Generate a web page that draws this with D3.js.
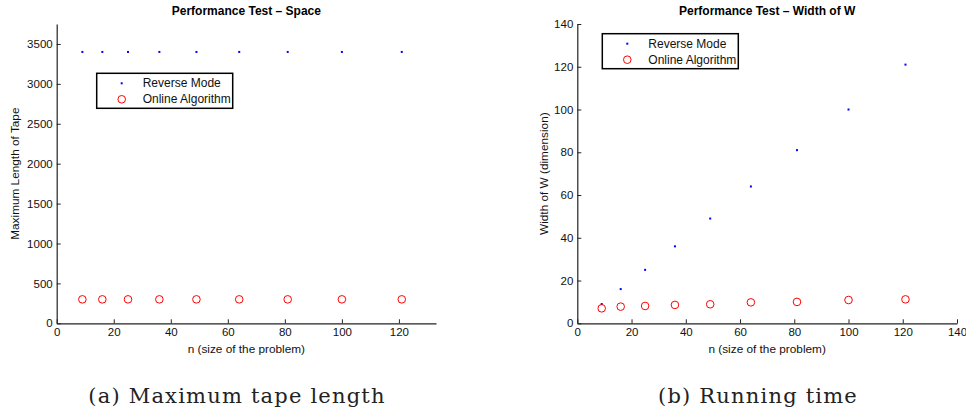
<!DOCTYPE html>
<meta charset="utf-8">
<script src="https://d3js.org/d3.v7.min.js"></script>
<style>
  body { margin: 0; background: white; }
  text { font-family: "Liberation Sans", Arial, sans-serif; }
</style>
<div id="my_div"></div>
<script>
// problem sizes (n) used in both tests
var sizes = [9, 16, 25, 36, 49, 64, 81, 100, 121];

// panel (a): maximum length of tape
var tapeReverse = [3400, 3400, 3400, 3400, 3400, 3400, 3400, 3400, 3400];
var tapeOnline  = [300, 300, 300, 300, 300, 300, 300, 300, 300];
var tapeYTicks  = [0, 500, 1000, 1500, 2000, 2500, 3000, 3500];
var tapeXTicks  = [0, 20, 40, 60, 80, 100, 120];

// panel (b): width of W
var widthReverse = [9, 16, 25, 36, 49, 64, 81, 100, 121];
var widthOnline  = [7, 7.8, 8.1, 8.6, 8.9, 9.8, 10, 10.9, 11.2];
var widthYTicks  = [0, 20, 40, 60, 80, 100, 120, 140];
var widthXTicks  = [0, 20, 40, 60, 80, 100, 120, 140];

var seriesNames = ["Reverse Mode", "Online Algorithm"];

var svg = d3.select("#my_div")
  .append("svg")
    .attr("width", 966)
    .attr("height", 410);

function drawPanel(opt) {
  var x = d3.scaleLinear().domain(opt.xDomain).range([opt.left, opt.right]);
  var y = d3.scaleLinear().domain(opt.yDomain).range([opt.bottom, opt.top]);

  // axes, ticks pointing inward like matlab
  var gx = svg.append("g")
    .attr("transform", "translate(0," + opt.bottom + ")")
    .call(d3.axisBottom(x).tickValues(opt.xTicks).tickFormat(d3.format("d"))
      .tickSize(-4).tickPadding(5).tickSizeOuter(0));
  var gy = svg.append("g")
    .attr("transform", "translate(" + opt.left + ",0)")
    .call(d3.axisLeft(y).tickValues(opt.yTicks).tickFormat(d3.format("d"))
      .tickSize(-4).tickPadding(4).tickSizeOuter(0));
  [gx, gy].forEach(function(g) {
    g.selectAll("text").style("font-size", "11.5px").attr("fill", "#111");
    g.selectAll("line").attr("stroke", "#222");
    g.select(".domain").attr("stroke", "#222").attr("stroke-width", 1.2);
  });

  // title
  svg.append("text")
    .attr("x", (opt.left + opt.right) / 2)
    .attr("y", 15)
    .attr("text-anchor", "middle")
    .style("font-size", "12px")
    .style("font-weight", "bold")
    .text(opt.title);

  // axis labels
  svg.append("text")
    .attr("x", (opt.left + opt.right) / 2)
    .attr("y", opt.bottom + 30)
    .attr("text-anchor", "middle")
    .style("font-size", "11.8px")
    .attr("fill", "#111")
    .text("n (size of the problem)");
  svg.append("text")
    .attr("transform", "translate(" + opt.yLabelX + "," + (opt.top + opt.bottom) / 2 + ") rotate(-90)")
    .attr("text-anchor", "middle")
    .style("font-size", "11.8px")
    .attr("fill", "#111")
    .text(opt.yLabel);

  // reverse mode: small blue dots
  svg.append("g").selectAll("rect")
    .data(sizes)
    .enter()
    .append("rect")
      .attr("x", function(d) { return x(d) - 1; })
      .attr("y", function(d, i) { return y(opt.reverse[i]) - 1; })
      .attr("width", 2)
      .attr("height", 2)
      .attr("fill", "#0000ff");

  // online algorithm: red open circles
  svg.append("g").selectAll("circle")
    .data(sizes)
    .enter()
    .append("circle")
      .attr("cx", function(d) { return x(d); })
      .attr("cy", function(d, i) { return y(opt.online[i]); })
      .attr("r", 3.8)
      .attr("fill", "none")
      .attr("stroke", "#ff0000")
      .attr("stroke-width", 1);

  // legend
  var lg = svg.append("g").attr("transform", "translate(" + opt.legend[0] + "," + opt.legend[1] + ")");
  lg.append("rect")
    .attr("width", 136)
    .attr("height", 35)
    .attr("fill", "white")
    .attr("stroke", "black")
    .attr("stroke-width", 1.5);
  lg.append("rect")
    .attr("x", 24).attr("y", 9)
    .attr("width", 2).attr("height", 2)
    .attr("fill", "#0000ff");
  lg.append("circle")
    .attr("cx", 25).attr("cy", 26)
    .attr("r", 3.8)
    .attr("fill", "none")
    .attr("stroke", "#ff0000");
  lg.selectAll("text.lbl")
    .data(seriesNames)
    .enter()
    .append("text")
      .attr("x", 46)
      .attr("y", function(d, i) { return 14 + i * 16; })
      .style("font-size", "12px")
      .attr("fill", "#111")
      .text(function(d) { return d; });

  // caption under the panel
  svg.append("text")
    .attr("x", opt.captionX)
    .attr("y", 403)
    .attr("text-anchor", "middle")
    .style("font-family", "'DejaVu Serif', 'Liberation Serif', serif")
    .style("font-size", "21px")
    .style("letter-spacing", "1.2px")
    .attr("fill", "#222")
    .text(opt.caption);
}

drawPanel({
  left: 56.7, right: 436, top: 24, bottom: 323.3,
  xDomain: [0, 133], yDomain: [0, 3750],
  xTicks: tapeXTicks, yTicks: tapeYTicks,
  reverse: tapeReverse, online: tapeOnline,
  title: "Performance Test \u2013 Space",
  yLabel: "Maximum Length of Tape", yLabelX: 18.5,
  legend: [96.7, 73.3],
  caption: "(a) Maximum tape length", captionX: 237
});

drawPanel({
  left: 577.3, right: 957, top: 24, bottom: 323.3,
  xDomain: [0, 140], yDomain: [0, 140],
  xTicks: widthXTicks, yTicks: widthYTicks,
  reverse: widthReverse, online: widthOnline,
  title: "Performance Test \u2013 Width of W",
  yLabel: "Width of W (dimension)", yLabelX: 548,
  legend: [602.3, 33.7],
  caption: "(b) Running time", captionX: 758
});
</script>
